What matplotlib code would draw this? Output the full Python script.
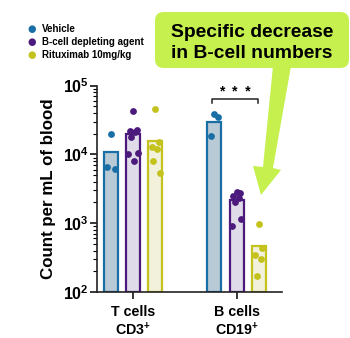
import matplotlib
matplotlib.use("Agg")
import matplotlib.pyplot as plt
import numpy as np
from matplotlib.patches import FancyBboxPatch, Polygon

plt.rcParams['font.family'] = ['Liberation Sans', 'DejaVu Sans']
plt.rcParams['font.weight'] = 'bold'
plt.rcParams['mathtext.fontset'] = 'custom'
plt.rcParams['mathtext.rm'] = 'Liberation Sans:bold'
plt.rcParams['mathtext.bf'] = 'Liberation Sans:bold'
plt.rcParams['mathtext.it'] = 'Liberation Sans:bold'

categories = ["T cells\nCD3$^{+}$", "B cells\nCD19$^{+}$"]
series = ["Vehicle", "B-cell depleting agent", "Rituximab 10mg/kg"]
bar_means = {
    "Vehicle": [10700, 29500],
    "B-cell depleting agent": [19400, 2050],
    "Rituximab 10mg/kg": [15500, 370],
}
points = {
    "Vehicle": [[19500, 6100, 6500], [38000, 35000, 18300]],
    "B-cell depleting agent": [[43000, 22500, 22000, 21000, 18000, 10500, 10000, 8000],
                               [2800, 2700, 2500, 2300, 2000, 1150, 900]],
    "Rituximab 10mg/kg": [[45000, 15000, 13000, 12000, 8000, 5300],
                          [960, 430, 340, 300, 170]],
}
edge_colors = ["#1a6ea6", "#4b1a7c", "#c4c21c"]
fill_colors = ["#b8cad6", "#e0dbe9", "#f1f1dc"]
yticks = [1e2, 1e3, 1e4, 1e5]
ytick_labels = ["$10^{2}$", "$10^{3}$", "$10^{4}$", "$10^{5}$"]

fig = plt.figure(figsize=(3.5, 3.38), dpi=100)
ax = fig.add_axes([0.277, 0.136, 0.529, 0.611])

offsets = [-0.214, 0.0, 0.214]
width = 0.136
x = np.arange(len(categories))
jit = [0.0, 0.035, -0.035, 0.02, -0.02, 0.045, -0.045, 0.01]
for i, s in enumerate(series):
    xs = x + offsets[i]
    ax.bar(xs, bar_means[s], width=width, bottom=1e2, color=fill_colors[i],
           edgecolor=edge_colors[i], linewidth=1.6, zorder=2)
    for g in range(len(categories)):
        vals = points[s][g]
        px = [xs[g] + jit[k % len(jit)] for k in range(len(vals))]
        ax.scatter(px, vals, s=24, color=edge_colors[i], zorder=3, linewidths=0)

ax.set_yscale('log')
ax.set_ylim(1e2, 1e5)
ax.set_xlim(-0.35, 1.44)
ax.set_yticks(yticks)
ax.set_yticklabels(ytick_labels, fontsize=11.5)
ax.set_xticks(x)
ax.set_xticklabels(categories, fontsize=10.3, fontweight='bold', linespacing=1.2)
ax.tick_params(axis='y', which='major', length=5, width=1.1, pad=1)
ax.tick_params(axis='y', which='minor', length=3, width=0.8)
ax.tick_params(axis='x', length=5, width=1.1, pad=4)
ax.spines['top'].set_visible(False)
ax.spines['right'].set_visible(False)
for sp in ['left', 'bottom']:
    ax.spines[sp].set_linewidth(1.2)
    ax.spines[sp].set_color('#222222')
ax.set_ylabel("Count per mL of blood", fontsize=12.2, fontweight='bold', labelpad=5)

# significance bracket
x0 = x[1] + offsets[0] - 0.02
x1 = x[1] + offsets[2] - 0.01
yb = 10 ** (4 + (154 - 99) / 68.5)
ax.plot([x0, x0, x1, x1], [yb * 0.88, yb, yb, yb * 0.88], color='#222222', lw=1.1, clip_on=False)
ax.text((x0 + x1) / 2, yb * 1.0, "*  *  *", ha='center', va='bottom', fontsize=10, fontweight='bold')

# legend
for i, s in enumerate(series):
    yy = 1 - (29 + 13 * i) / 338
    fig.text(32 / 350, yy, "\u25CF", color=edge_colors[i], fontsize=7, ha='center', va='center',
             family='DejaVu Sans')
    fig.text(42 / 350, yy, s, fontsize=7, fontweight='bold', ha='left', va='center')

# callout
green = "#c5f04e"
W, H = 350, 338
def fp(px, py):
    return (px / W, 1 - py / H)
arrow = [fp(273, 66), fp(291, 66), fp(273, 168), fp(281, 170), fp(261, 195), fp(253, 166), fp(263, 167)]
fig.patches.append(Polygon(arrow, closed=True, transform=fig.transFigure, facecolor=green,
                           edgecolor='none', zorder=5))
bx0, by0 = fp(155, 68)
bx1, by1 = fp(349, 12)
fig.patches.append(FancyBboxPatch((bx0 + 0.02, by0 + 0.02), bx1 - bx0 - 0.04, by1 - by0 - 0.04,
                                  boxstyle="round,pad=0.02,rounding_size=0.025",
                                  transform=fig.transFigure, facecolor=green, edgecolor='none', zorder=5))
fig.text((155 + 349) / 2 / W, 1 - 43 / H, "Specific decrease\nin B-cell numbers", fontsize=13.9,
         fontweight='bold', ha='center', va='center', linespacing=1.3, zorder=6)

fig.savefig("out.png", dpi=100)
